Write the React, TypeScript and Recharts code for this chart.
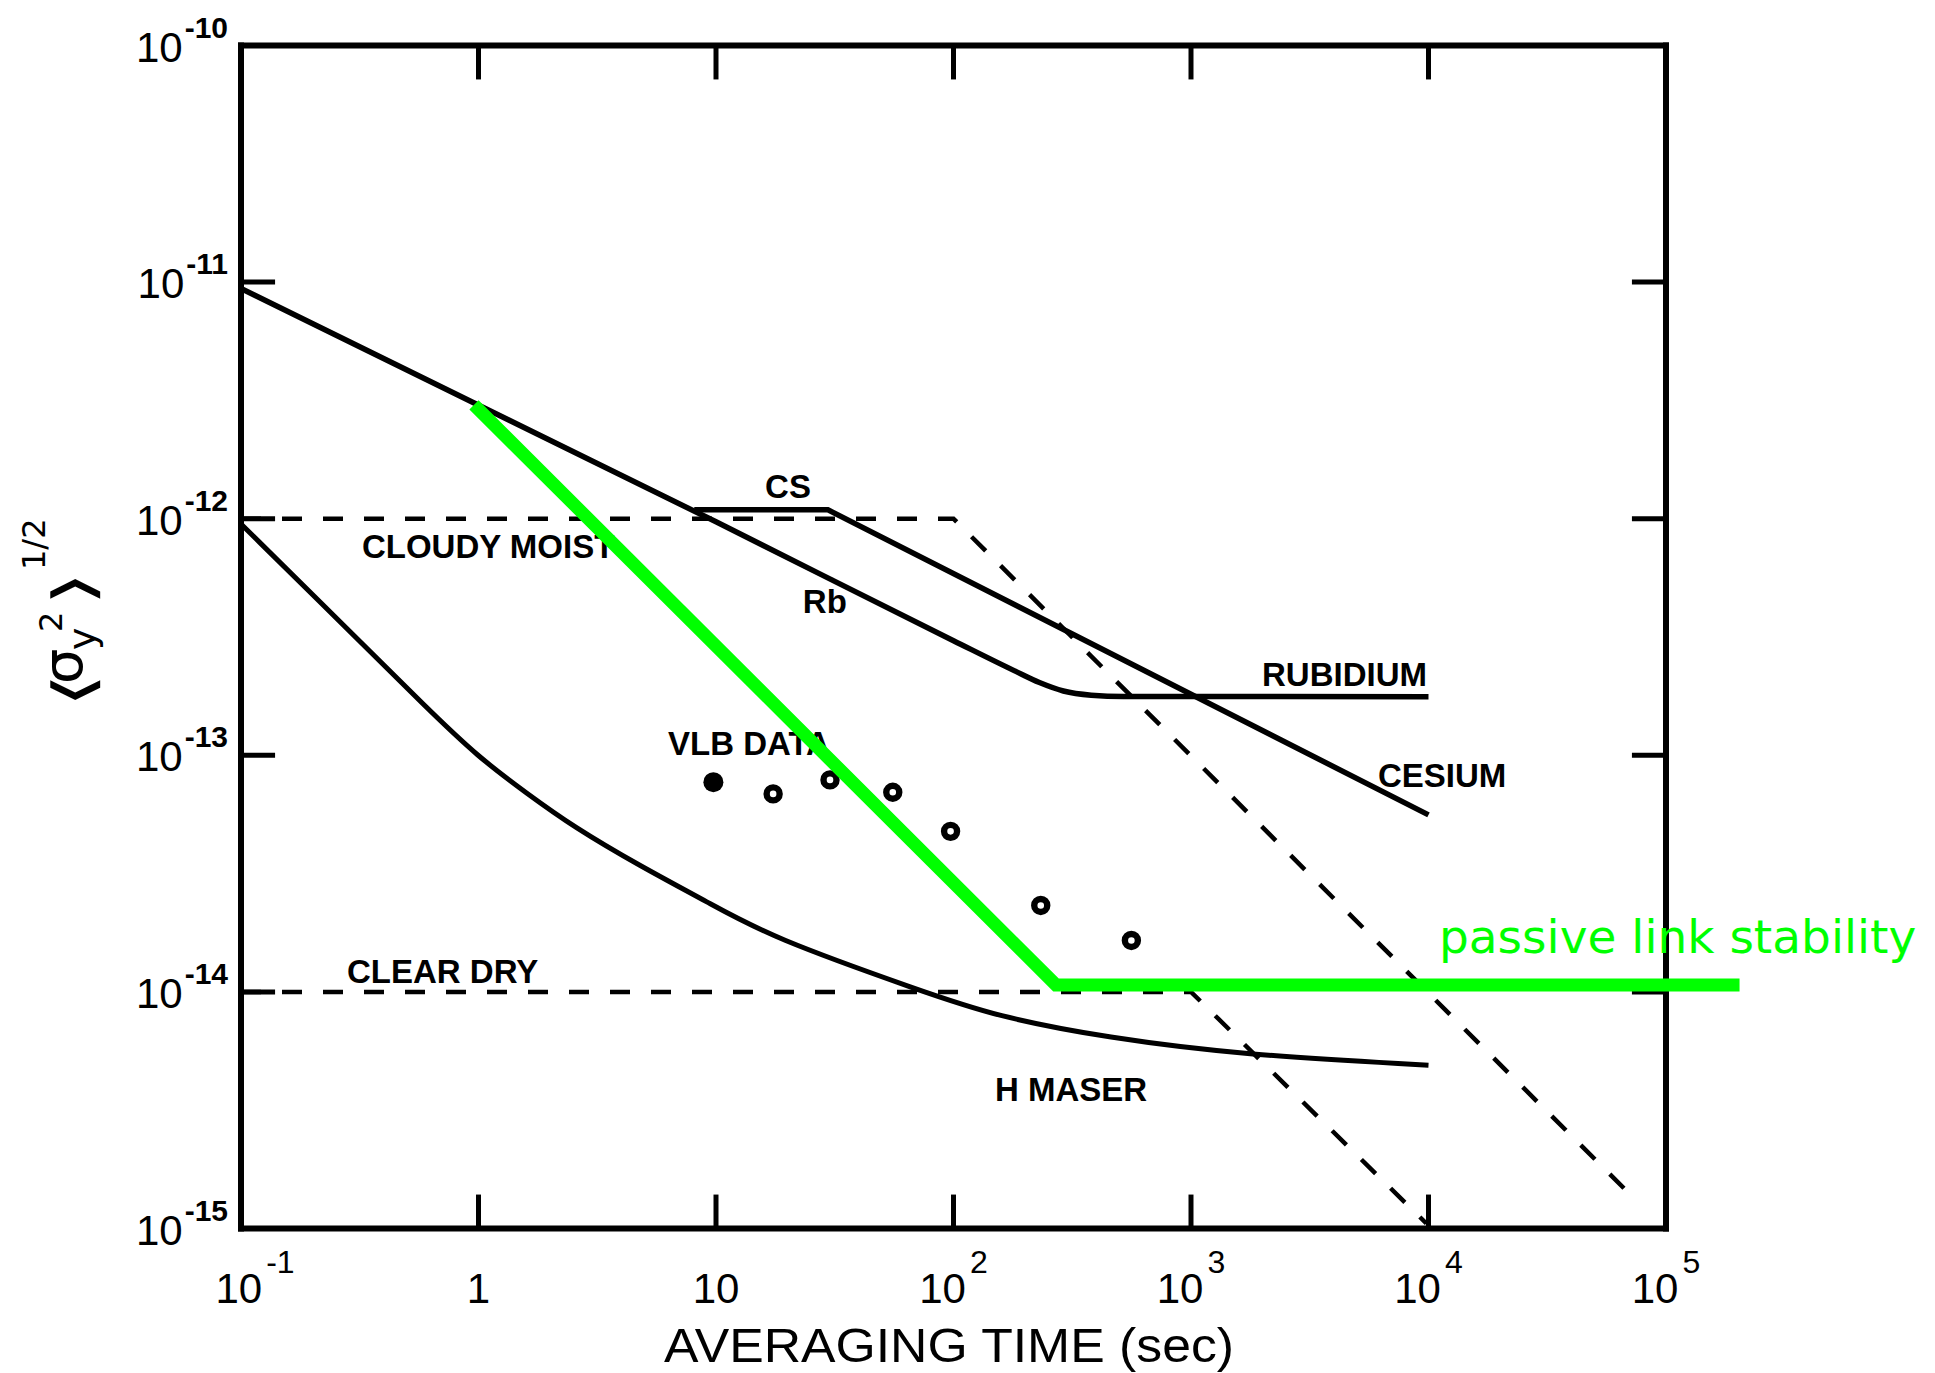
import React from 'react';
import {ComposedChart, Line, Scatter, XAxis, YAxis, ReferenceLine, ReferenceDot} from 'recharts';

// averaging time (s) / fractional frequency stability
const rbTau = [0.1, 10, 100, 180, 230, 290, 380, 520, 10000];
const rbSigma = [9.4e-12, 9.7e-13, 3.05e-13, 2.28e-13, 2.03e-13, 1.87e-13, 1.795e-13, 1.772e-13, 1.77e-13];

const csTau = [8.1, 29.6, 10000];
const csSigma = [1.09e-12, 1.09e-12, 5.6e-14];

const maserTau = [0.1, 0.3, 0.6, 1.0, 1.6, 2.5, 4.8, 9.2, 17, 75, 150, 440, 1700, 10000];
const maserSigma = [9.5e-13, 3.2e-13, 1.6e-13, 9.8e-14, 6.9e-14, 5.0e-14, 3.4e-14, 2.4e-14, 1.7e-14, 1.0e-14, 7.9e-15, 6.4e-15, 5.4e-15, 4.9e-15];

const cloudyTau = [0.1, 100, 74000];
const cloudySigma = [1e-12, 1e-12, 1.33e-15];

const clearTau = [0.1, 1000, 9800];
const clearSigma = [1e-14, 1e-14, 1.05e-15];

const linkTau = [0.957, 270, 204000];
const linkSigma = [3.03e-12, 1.07e-14, 1.07e-14];

const vlbTau = [9.75, 17.4, 30.2, 55.5, 97.2, 233, 561];
const vlbSigma = [7.7e-14, 6.87e-14, 7.87e-14, 6.98e-14, 4.77e-14, 2.32e-14, 1.65e-14];
const vlbFilled = [true, false, false, false, false, false, false];

const xTicks = [0.1, 1, 10, 100, 1000, 10000, 100000];
const xTickBase = ['10', '1', '10', '10', '10', '10', '10'];
const xTickExp = ['-1', '', '', '2', '3', '4', '5'];

const yTicks = [1e-15, 1e-14, 1e-13, 1e-12, 1e-11, 1e-10];
const yTickExp = ['-15', '-14', '-13', '-12', '-11', '-10'];

// inward tick marks on the frame
const frameXTicks = [1, 10, 100, 1000, 10000];
const frameYTicks = [1e-14, 1e-13, 1e-12, 1e-11];

const curveLabels = ['CS', 'Rb', 'CLOUDY MOIST', 'CLEAR DRY', 'VLB DATA', 'RUBIDIUM', 'CESIUM', 'H MASER'];
const curveLabelTau = [16.1, 23.2, 0.323, 0.2795, 6.28, 1991, 6124, 149.6];
const curveLabelSigma = [1.223e-12, 3.99e-13, 6.82e-13, 1.09e-14, 1.003e-13, 1.963e-13, 7.34e-14, 3.46e-15];

const linkLabel = 'passive link stability';
const linkLabelTau = 11070;
const linkLabelSigma = 1.46e-14;

const X_MIN = 0.1;
const X_FRAME = 1e5;
const X_MAX = 1e6;
const Y_MIN = 1e-15;
const Y_MAX = 1e-10;
const TICK = Math.pow(10, 34 / 237);

const FONT = '"Liberation Sans", Arial, sans-serif';
const GREEN = '#00ff00';

const pts = (xs: number[], ys: number[]) => xs.map((x, i) => ({x, y: ys[i]}));

const XTick = ({x, y, payload}: any) => {
    const i = xTicks.indexOf(payload.value);
    // the corner label sits with its "10" on the tick
    const nudge = xTickExp[i].startsWith('-') ? 14 : 0;
    return (
        <text x={x + nudge} y={y + 74.5} textAnchor="middle" fontFamily={FONT} fontSize={42} fill="#000">
            {xTickBase[i]}
            {xTickExp[i] && <tspan dx={4} dy={-30} fontSize={32}>{xTickExp[i]}</tspan>}
        </text>
    );
};

const YTick = ({x, y, payload}: any) => {
    const i = yTicks.indexOf(payload.value);
    return (
        <text x={x - 13} y={y + 16} textAnchor="end" fontFamily={FONT} fontSize={42} fill="#000">
            10
            <tspan dx={2} dy={-24} fontSize={30} fontWeight="bold">{yTickExp[i]}</tspan>
        </text>
    );
};

const XTitle = () => (
    <text x={949} y={1362} textAnchor="middle" fontFamily={FONT} fontSize={49} fill="#000"
          textLength={570} lengthAdjust="spacingAndGlyphs">
        AVERAGING TIME (sec)
    </text>
);

const YTitle = () => (
    <g transform="translate(82,708) rotate(-90)" fill="#000" fontFamily='"DejaVu Sans", sans-serif'>
        <g transform="translate(0,11) scale(1.6,1)"><text fontSize={56}>⟨</text></g>
        <text x={24} y={0} fontSize={56}>σ</text>
        <text x={58} y={13} fontSize={38}>y</text>
        <text x={76} y={-20} fontSize={32}>2</text>
        <g transform="translate(102,11) scale(1.6,1)"><text fontSize={56}>⟩</text></g>
        <text x={138} y={-37} fontSize={32}>1/2</text>
    </g>
);

const VlbMarker = (props: any) => {
    const {cx, cy} = props;
    const filled = props.payload ? props.payload.filled : props.filled;
    if (filled) return <circle cx={cx} cy={cy} r={10} fill="#000" />;
    return <circle cx={cx} cy={cy} r={6.5} fill="#fff" stroke="#000" strokeWidth={6.4} />;
};

const textAt = (text: string, color: string, size: number, family: string, weight: string) =>
    (p: any) => (
        <text x={p.cx} y={p.cy} fontFamily={family} fontSize={size} fontWeight={weight} fill={color}>
            {text}
        </text>
    );

export default function App() {
    const vlb = vlbTau.map((x, i) => ({x, y: vlbSigma[i], filled: vlbFilled[i]}));
    const frame = [
        [{x: X_MIN, y: Y_MIN}, {x: X_FRAME, y: Y_MIN}],
        [{x: X_FRAME, y: Y_MIN}, {x: X_FRAME, y: Y_MAX}],
        [{x: X_FRAME, y: Y_MAX}, {x: X_MIN, y: Y_MAX}],
        [{x: X_MIN, y: Y_MAX}, {x: X_MIN, y: Y_MIN}],
    ];
    const tickSegs = [
        ...frameXTicks.map(v => [{x: v, y: Y_MIN}, {x: v, y: Y_MIN * TICK}]),
        ...frameXTicks.map(v => [{x: v, y: Y_MAX}, {x: v, y: Y_MAX / TICK}]),
        ...frameYTicks.map(v => [{x: X_MIN, y: v}, {x: X_MIN * TICK, y: v}]),
        ...frameYTicks.map(v => [{x: X_FRAME, y: v}, {x: X_FRAME / TICK, y: v}]),
    ];

    return (
        <div style={{position: 'absolute', left: 0, top: 0, width: 1935, height: 1373, background: '#fff'}}>
            <ComposedChart width={1935} height={1373} margin={{top: 45.5, right: 31.5, bottom: 14.5, left: 0}}>
                <XAxis
                    type="number"
                    dataKey="x"
                    scale="log"
                    domain={[X_MIN, X_MAX]}
                    ticks={xTicks}
                    interval={0}
                    axisLine={false}
                    tickLine={false}
                    tickSize={0}
                    tickMargin={0}
                    height={130}
                    tick={XTick}
                    label={<XTitle />}
                />
                <YAxis
                    type="number"
                    dataKey="y"
                    scale="log"
                    domain={[Y_MIN, Y_MAX]}
                    ticks={yTicks}
                    interval={0}
                    axisLine={false}
                    tickLine={false}
                    tickSize={0}
                    tickMargin={0}
                    width={241}
                    tick={YTick}
                    label={<YTitle />}
                />

                {frame.map((seg, i) => (
                    <ReferenceLine key={'f' + i} segment={seg} stroke="#000" strokeWidth={6}
                                   strokeLinecap="square" ifOverflow="visible" />
                ))}
                {tickSegs.map((seg, i) => (
                    <ReferenceLine key={'t' + i} segment={seg} stroke="#000" strokeWidth={5} ifOverflow="visible" />
                ))}

                <Line data={pts(cloudyTau, cloudySigma)} dataKey="y" type="linear" stroke="#000" strokeWidth={4.5}
                      strokeDasharray="20 21" dot={false} activeDot={false} isAnimationActive={false} />
                <Line data={pts(clearTau, clearSigma)} dataKey="y" type="linear" stroke="#000" strokeWidth={4.5}
                      strokeDasharray="20 21" dot={false} activeDot={false} isAnimationActive={false} />
                <Line data={pts(rbTau, rbSigma)} dataKey="y" type="monotone" stroke="#000" strokeWidth={5.5}
                      dot={false} activeDot={false} isAnimationActive={false} />
                <Line data={pts(csTau, csSigma)} dataKey="y" type="linear" stroke="#000" strokeWidth={5.5}
                      dot={false} activeDot={false} isAnimationActive={false} />
                <Line data={pts(maserTau, maserSigma)} dataKey="y" type="basis" stroke="#000" strokeWidth={5}
                      dot={false} activeDot={false} isAnimationActive={false} />

                <Scatter data={vlb} dataKey="y" shape={VlbMarker} isAnimationActive={false} />

                {curveLabels.map((t, i) => (
                    <ReferenceDot key={'l' + i} x={curveLabelTau[i]} y={curveLabelSigma[i]} r={0} ifOverflow="visible"
                                  shape={textAt(t, '#000', 33, FONT, 'bold')} />
                ))}

                <Line data={pts(linkTau, linkSigma)} dataKey="y" type="linear" stroke={GREEN} strokeWidth={13}
                      dot={false} activeDot={false} isAnimationActive={false} zIndex={2100} />
                <ReferenceDot x={linkLabelTau} y={linkLabelSigma} r={0} ifOverflow="visible"
                              shape={textAt(linkLabel, GREEN, 47, '"DejaVu Sans", sans-serif', 'normal')} />
            </ComposedChart>
        </div>
    );
}
